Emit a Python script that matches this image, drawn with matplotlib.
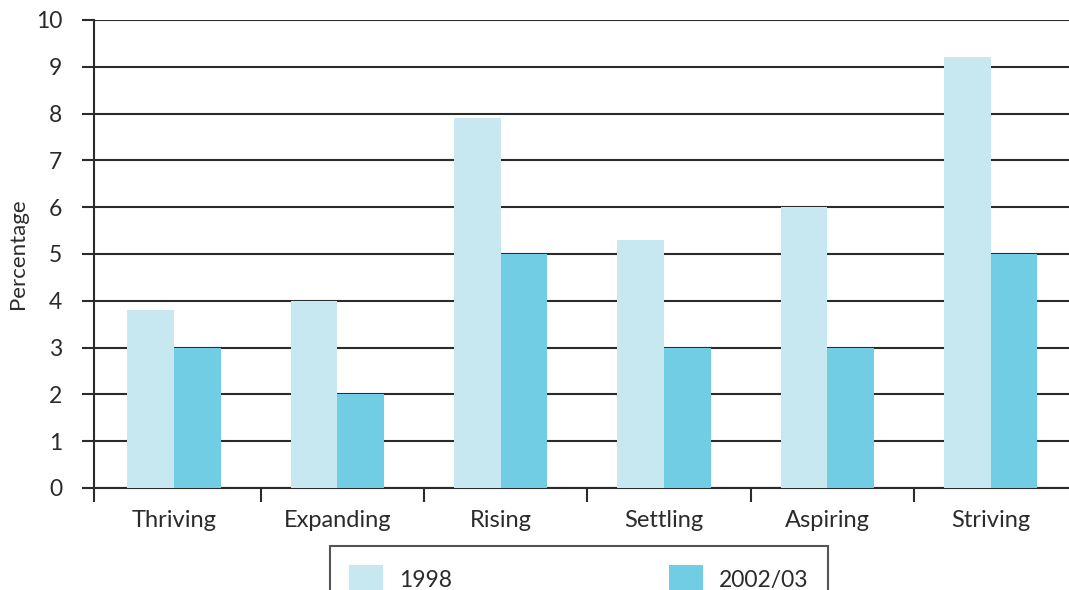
import matplotlib
matplotlib.use('Agg')
import matplotlib.pyplot as plt
import numpy as np

plt.rcParams['font.family'] = ['Lato', 'DejaVu Sans']

# data
categories = ['Thriving', 'Expanding', 'Rising', 'Settling', 'Aspiring', 'Striving']
values_1998 = [3.8, 4.0, 7.9, 5.3, 6.0, 9.2]
values_2002 = [3.0, 2.0, 5.0, 3.0, 3.0, 5.0]
series_labels = ['1998', '2002/03']

COLOR_LIGHT = '#c7e8f1'
COLOR_DARK = '#71cde3'
COLOR_LINE = '#2b2b2b'
COLOR_TEXT = '#2b2b2b'

fig = plt.figure(figsize=(10.69, 5.90), dpi=100)
ax = fig.add_axes([94 / 1069, 102 / 590, 1 - 94 / 1069, 468 / 590])

x = np.arange(len(categories))
w = 0.285
b1 = ax.bar(x - w / 2, values_1998, w, color=COLOR_LIGHT, zorder=3, label=series_labels[0])
b2 = ax.bar(x + w / 2, values_2002, w, color=COLOR_DARK, zorder=3, label=series_labels[1])

ax.set_xlim(-0.49, 5.48)
ax.set_ylim(0, 10)
ax.set_yticks(range(0, 11))
ax.yaxis.grid(True, color=COLOR_LINE, linewidth=1.5, zorder=1)
ax.set_axisbelow(True)

for s in ['top', 'right']:
    ax.spines[s].set_visible(False)
ax.spines['left'].set_linewidth(1.5)
ax.spines['bottom'].set_linewidth(1.5)
ax.spines['left'].set_color(COLOR_LINE)
ax.spines['bottom'].set_color(COLOR_LINE)

ax.set_xticks(x)
ax.set_xticklabels(categories)
ax.set_xticks([-0.49] + list(x[:-1] + 0.53), minor=True)
ax.tick_params(axis='x', which='major', length=0, pad=16, labelsize=17, labelcolor=COLOR_TEXT)
ax.tick_params(axis='x', which='minor', length=10, width=1.5, color=COLOR_LINE, direction='out')
ax.tick_params(axis='y', length=9, width=1.5, color=COLOR_LINE, direction='out',
               pad=14, labelsize=16.5, labelcolor=COLOR_TEXT)

ax.set_ylabel('Percentage', fontsize=16, color=COLOR_TEXT)
ax.yaxis.set_label_coords(-0.068, 0.5)

leg = fig.legend(handles=[b1, b2], labels=series_labels, loc='upper left',
                 bbox_to_anchor=(330 / 1069, 44 / 590), ncol=2, frameon=True,
                 fancybox=False, fontsize=16.5, borderpad=0.85, handlelength=1.45,
                 handleheight=1.5, handletextpad=0.7, columnspacing=9.5,
                 borderaxespad=0)
leg.get_frame().set_edgecolor(COLOR_LINE)
leg.get_frame().set_linewidth(1.5)
for t in leg.get_texts():
    t.set_color(COLOR_TEXT)

fig.savefig('out.png', dpi=100)
